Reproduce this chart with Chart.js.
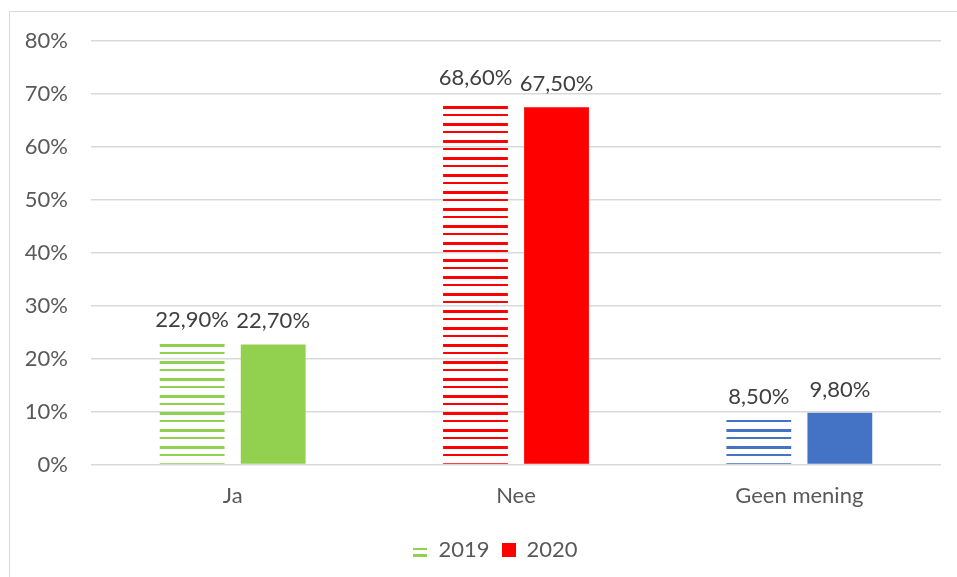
<!DOCTYPE html>
<html>
<head>
<meta charset="utf-8">
<script src="https://cdn.jsdelivr.net/npm/chart.js@4.4.0/dist/chart.umd.min.js"></script>
<style>
  body { margin: 0; background: #fff; }
  #wrap { position: relative; width: 957px; height: 577px; overflow: hidden; }
  #frame { position: absolute; left: 9px; top: 11px; width: 1200px; height: 900px;
           border-left: 1px solid #d9d9d9; border-top: 1px solid #d9d9d9; }
  canvas { position: absolute; left: 0; top: 0; }
</style>
</head>
<body>
<div id="wrap">
  <div id="frame"></div>
  <canvas id="grafico" width="957" height="577"></canvas>
</div>
<script>
// data
var categorieen = ['Ja', 'Nee', 'Geen mening'];
var jaren = ['2019', '2020'];
var waarden2019 = [22.9, 68.6, 8.5];
var waarden2020 = [22.7, 67.5, 9.8];
var yTicks = [0, 10, 20, 30, 40, 50, 60, 70, 80];

var kleuren = ['#92D050', '#FF0000', '#4472C4'];
var tekstKleur = '#595959';
var lettertype = 'Lato, "Open Sans", sans-serif';

// horizontale streepjes voor 2019
function maakPatroon(kleur) {
  var c = document.createElement('canvas');
  c.width = 4;
  c.height = 17;
  var cx = c.getContext('2d');
  cx.fillStyle = kleur;
  cx.fillRect(0, 4, 4, 3);
  cx.fillRect(0, 12, 4, 2);
  return c.getContext('2d').createPattern(c, 'repeat');
}

function legendaIcoon(kleur, gestreept) {
  var c = document.createElement('canvas');
  c.width = 14;
  c.height = 14;
  var cx = c.getContext('2d');
  cx.fillStyle = kleur;
  if (gestreept) {
    cx.fillRect(0, 5, 14, 2);
    cx.fillRect(0, 11, 14, 3);
  } else {
    cx.fillRect(0, 0, 14, 14);
  }
  return c;
}

var patronen = kleuren.map(maakPatroon);

// labels boven de staven
var waardeLabels = {
  id: 'waardeLabels',
  afterLayout: function(chart) {
    // legenda iets naar rechts, zoals in Excel
    chart.legend.left += 25;
    chart.legend.right += 25;
  },
  afterDatasetsDraw: function(chart) {
    var ctx = chart.ctx;
    ctx.save();
    ctx.font = '22px ' + lettertype;
    ctx.fillStyle = '#404040';
    ctx.textAlign = 'center';
    ctx.textBaseline = 'middle';
    chart.data.datasets.forEach(function(ds, i) {
      var meta = chart.getDatasetMeta(i);
      meta.data.forEach(function(staaf, j) {
        var tekst = ds.data[j].toFixed(2).replace('.', ',') + '%';
        ctx.fillText(tekst, staaf.x, staaf.y - 23);
      });
    });
    ctx.restore();
  }
};

new Chart(document.getElementById('grafico'), {
  type: 'bar',
  data: {
    labels: categorieen,
    datasets: [{
      label: jaren[0],
      data: waarden2019,
      backgroundColor: patronen,
      borderWidth: 0
    }, {
      label: jaren[1],
      data: waarden2020,
      backgroundColor: kleuren,
      borderWidth: 0
    }]
  },
  options: {
    responsive: false,
    animation: false,
    devicePixelRatio: 1,
    categoryPercentage: 0.572,
    barPercentage: 0.8,
    layout: { padding: { left: 0, right: 16, top: 41, bottom: 6 } },
    scales: {
      x: {
        afterFit: function(scale) { scale.height += 8; },
        grid: { display: false },
        border: { display: false },
        ticks: { color: tekstKleur, font: { size: 22, family: lettertype }, padding: 10 }
      },
      y: {
        min: 0,
        max: 80,
        afterBuildTicks: function(scale) {
          scale.ticks = yTicks.map(function(v) { return { value: v }; });
        },
        afterFit: function(scale) { scale.width = 91; },
        grid: { color: '#d9d9d9', lineWidth: 1.5, drawTicks: false },
        border: { display: false },
        ticks: {
          color: tekstKleur,
          font: { size: 22, family: lettertype },
          padding: 23,
          callback: function(v) { return v + '%'; }
        }
      }
    },
    plugins: {
      tooltip: { enabled: false },
      legend: {
        position: 'bottom',
        labels: {
          color: tekstKleur,
          font: { size: 22, family: lettertype },
          usePointStyle: true,
          boxWidth: 14,
          boxHeight: 14,
          padding: 12,
          generateLabels: function(chart) {
            return jaren.map(function(j, i) {
              return {
                text: j,
                pointStyle: legendaIcoon(i === 0 ? kleuren[0] : kleuren[1], i === 0),
                fillStyle: i === 0 ? kleuren[0] : kleuren[1],
                strokeStyle: 'transparent',
                lineWidth: 0,
                fontColor: tekstKleur,
                datasetIndex: i
              };
            });
          }
        }
      }
    }
  },
  plugins: [waardeLabels]
});
</script>
</body>
</html>
